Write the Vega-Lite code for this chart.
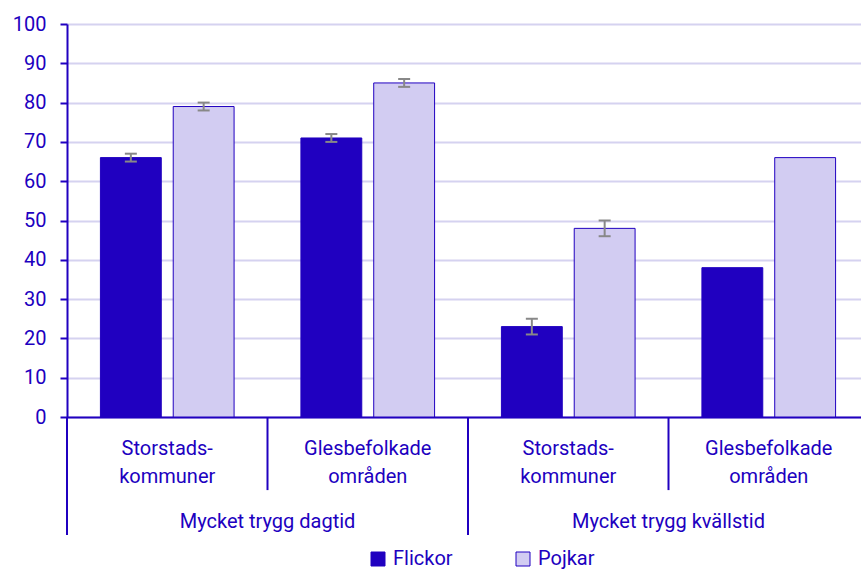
{
  "$schema": "https://vega.github.io/schema/vega-lite/v6.json",
  "width": 802,
  "height": 393,
  "autosize": {"type": "none"},
  "padding": {"left": 67, "top": 24, "right": 0, "bottom": 154},
  "config": {
    "font": "Roboto",
    "view": {"stroke": null}
  },
  "datasets": {
    "bars": [
      {"grp": "d1", "gender": "Flickor", "value": 66, "lo": 65, "hi": 67},
      {"grp": "d1", "gender": "Pojkar", "value": 79, "lo": 78, "hi": 80},
      {"grp": "d2", "gender": "Flickor", "value": 71, "lo": 70, "hi": 72},
      {"grp": "d2", "gender": "Pojkar", "value": 85, "lo": 84, "hi": 86},
      {"grp": "k1", "gender": "Flickor", "value": 23, "lo": 21, "hi": 25},
      {"grp": "k1", "gender": "Pojkar", "value": 48, "lo": 46, "hi": 50},
      {"grp": "k2", "gender": "Flickor", "value": 38, "lo": null, "hi": null},
      {"grp": "k2", "gender": "Pojkar", "value": 66, "lo": null, "hi": null}
    ]
  },
  "layer": [
    {
      "data": {"name": "bars"},
      "mark": {"type": "bar", "stroke": "#2000C0", "strokeWidth": 1},
      "encoding": {
        "x": {
          "field": "grp", "type": "nominal",
          "scale": {"domain": ["d1", "d2", "k1", "k2"], "paddingInner": 0, "paddingOuter": 0},
          "axis": {
            "orient": "bottom", "title": null, "labelAngle": 0, "ticks": false,
            "domainColor": "#2000C0", "domainWidth": 2,
            "labelPadding": 21, "labelFontSize": 20, "labelColor": "#2000C0", "labelLineHeight": 28,
            "labelExpr": "indexof(datum.value,'1') >= 0 ? ['Storstads-','kommuner'] : ['Glesbefolkade','områden']",
            "labelLimit": 0, "labelOverlap": false, "grid": false
          }
        },
        "xOffset": {
          "field": "gender", "type": "nominal",
          "scale": {"domain": ["Flickor", "Pojkar"], "paddingInner": 0.164, "paddingOuter": 0.459}
        },
        "y": {
          "field": "value", "type": "quantitative",
          "scale": {"domain": [0, 100], "nice": false},
          "axis": {
            "title": null, "values": [0, 10, 20, 30, 40, 50, 60, 70, 80, 90, 100],
            "tickSize": 7, "tickWidth": 2, "tickColor": "#2000C0",
            "domainColor": "#2000C0", "domainWidth": 2, "labelPadding": 14,
            "labelFontSize": 20, "labelColor": "#2000C0", "labelOverlap": false,
            "grid": true, "gridColor": "#D5D2F0", "gridWidth": 2
          }
        },
        "color": {
          "field": "gender", "type": "nominal",
          "scale": {"domain": ["Flickor", "Pojkar"], "range": ["#2000C0", "#D2CCF2"]},
          "legend": {
            "orient": "none", "legendX": 301, "legendY": 525, "direction": "horizontal",
            "title": null, "symbolType": "square", "symbolSize": 196,
            "symbolStrokeColor": "#2000C0", "symbolStrokeWidth": 1, "symbolOpacity": 1,
            "labelFontSize": 20, "labelColor": "#2000C0", "columnPadding": 60, "labelOffset": 5
          }
        }
      }
    },
    {
      "data": {"name": "bars"},
      "transform": [{"filter": "isValid(datum.lo)"}],
      "mark": {"type": "rule", "color": "#888888", "strokeWidth": 2},
      "encoding": {
        "x": {"field": "grp", "type": "nominal"},
        "xOffset": {"field": "gender", "type": "nominal"},
        "y": {"field": "lo", "type": "quantitative", "axis": null},
        "y2": {"field": "hi"}
      }
    },
    {
      "data": {"name": "bars"},
      "transform": [{"filter": "isValid(datum.lo)"}],
      "mark": {"type": "tick", "color": "#888888", "thickness": 2, "size": 12, "opacity": 1},
      "encoding": {
        "x": {"field": "grp", "type": "nominal"},
        "xOffset": {"field": "gender", "type": "nominal"},
        "y": {"field": "lo", "type": "quantitative", "axis": null}
      }
    },
    {
      "data": {"name": "bars"},
      "transform": [{"filter": "isValid(datum.hi)"}],
      "mark": {"type": "tick", "color": "#888888", "thickness": 2, "size": 12, "opacity": 1},
      "encoding": {
        "x": {"field": "grp", "type": "nominal"},
        "xOffset": {"field": "gender", "type": "nominal"},
        "y": {"field": "hi", "type": "quantitative", "axis": null}
      }
    },
    {
      "data": {"values": [{"grp": "d2"}, {"grp": "k2"}]},
      "mark": {"type": "rule", "color": "#2000C0", "strokeWidth": 2, "clip": false},
      "encoding": {
        "x": {"field": "grp", "type": "nominal", "bandPosition": 0},
        "y": {"datum": 0, "axis": null},
        "y2": {"datum": -18.6}
      }
    },
    {
      "data": {"values": [{"grp": "d1"}, {"grp": "k1"}]},
      "mark": {"type": "rule", "color": "#2000C0", "strokeWidth": 2, "clip": false},
      "encoding": {
        "x": {"field": "grp", "type": "nominal", "bandPosition": 0},
        "y": {"datum": 0, "axis": null},
        "y2": {"datum": -30}
      }
    },
    {
      "data": {
        "values": [
          {"grp": "d2", "label": "Mycket trygg dagtid"},
          {"grp": "k2", "label": "Mycket trygg kvällstid"}
        ]
      },
      "mark": {"type": "text", "fontSize": 20, "color": "#2000C0", "baseline": "alphabetic", "align": "center", "clip": false},
      "encoding": {
        "x": {"field": "grp", "type": "nominal", "bandPosition": 0},
        "y": {"datum": -28.2, "axis": null},
        "text": {"field": "label"}
      }
    }
  ],
  "resolve": {"axis": {"y": "independent"}}
}
